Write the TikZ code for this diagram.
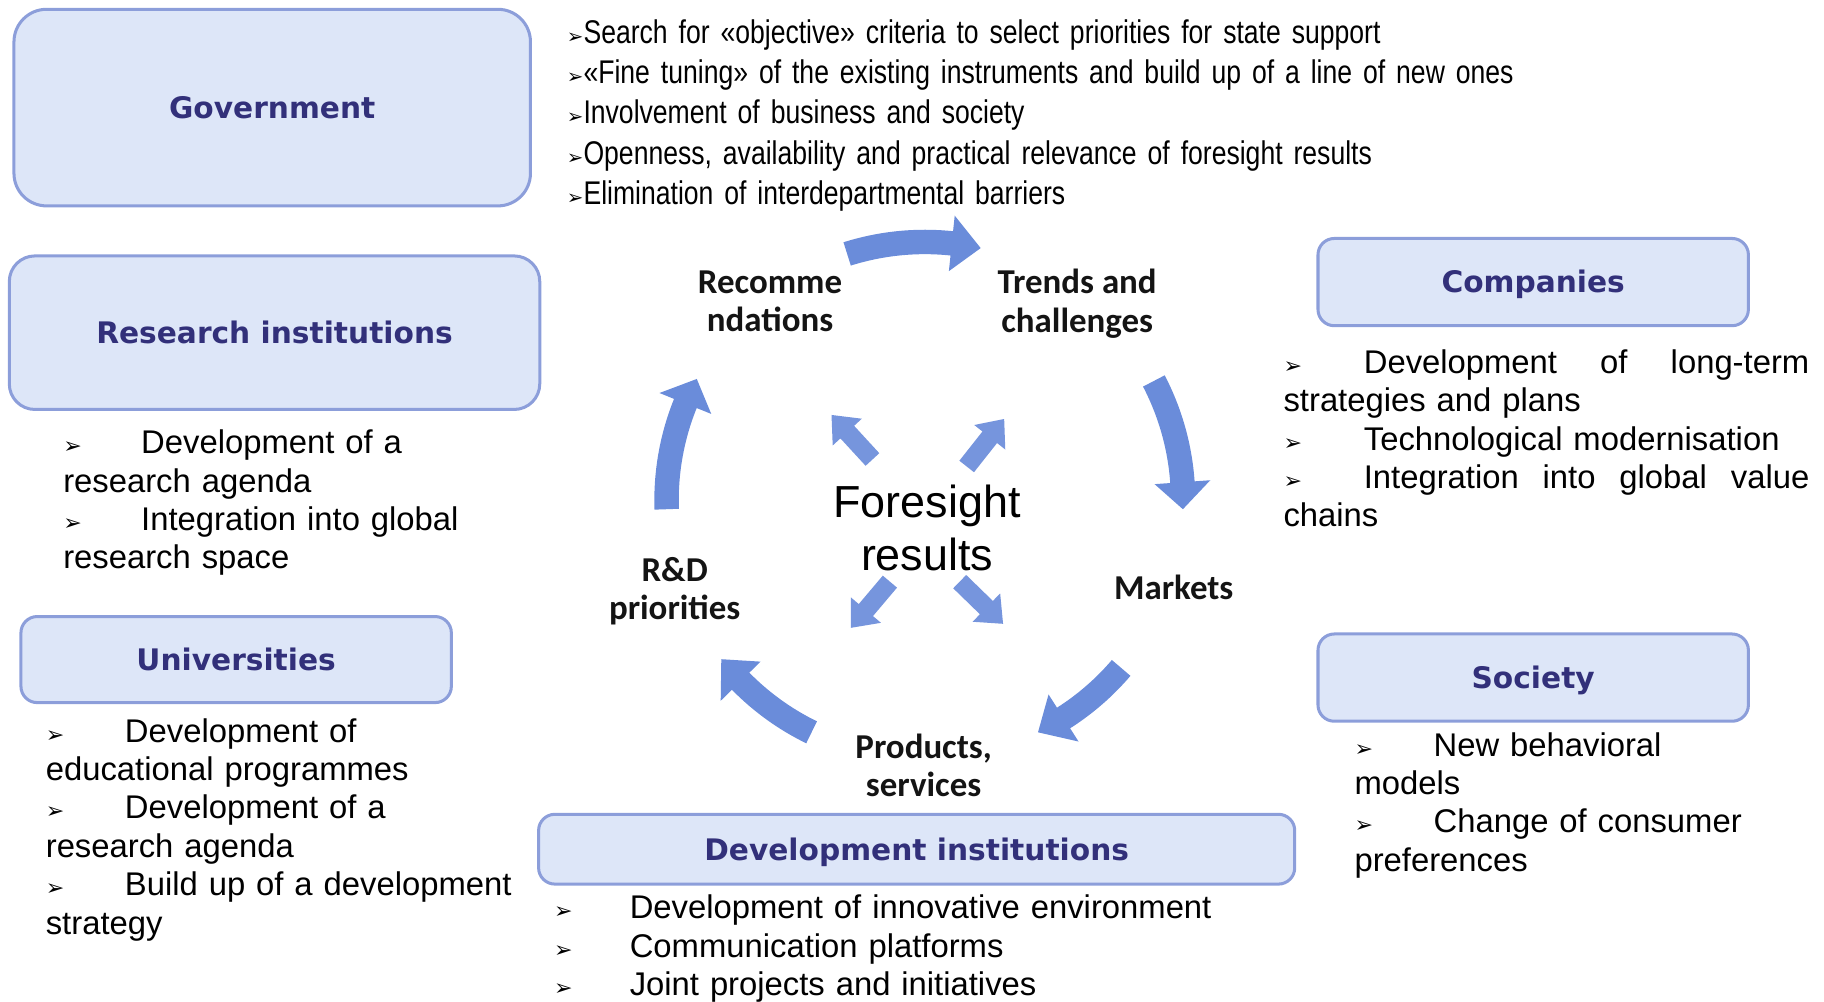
\documentclass[tikz,border=0pt]{standalone}
\usepackage{fontspec}
\setmainfont{Liberation Sans}
\newfontfamily\narrowf[FakeStretch=0.81]{Liberation Sans}
\newfontfamily\headf{DejaVu Sans}
\newfontfamily\calf{Carlito}
\newfontfamily\symf{DejaVu Sans}
\definecolor{boxfill}{RGB}{221,230,248}
\definecolor{boxline}{RGB}{140,158,218}
\definecolor{headc}{RGB}{50,48,122}
\definecolor{arrowc}{RGB}{106,140,218}
\newcommand{\bul}{{\symf\fontsize{9.5}{9.5}\selectfont ➢}}
\newcommand{\gbul}{{\symf\fontsize{8.5}{8.5}\selectfont ➢}}
\newcommand{\bi}[1]{\makebox[#1][l]{\bul}}
\newcommand{\cycarrow}[3]{\fill[arrowc] (#1:116.25pt) arc[start angle=#1, end angle=#2, radius=116.25pt] -- (#2:123pt) -- (#3:111pt) -- (#2:99pt) -- (#2:105.75pt) arc[start angle=#2, end angle=#1, radius=105.75pt] -- cycle;}
\newcommand{\burst}[3]{\fill[arrowc!92!white, shift={(#1,#2)}, rotate=#3] (0,-8) -- (32,-8) -- (32,-17) -- (52,0) -- (32,17) -- (32,8) -- (0,8) -- cycle;}
\tikzset{
  hbox/.style={draw=boxline, fill=boxfill, line width=1.3pt, font=\headf\bfseries\fontsize{12.75}{15}\selectfont, text=headc, inner sep=0pt, text height=9.3pt, text depth=0pt},
  listtext/.style={inner sep=0pt, anchor=base west, align=left, font=\fontsize{14.1}{16.5}\selectfont, text=black},
  cyc/.style={font=\calf\bfseries\fontsize{15}{16.5}\selectfont, align=center, inner sep=0pt, text=black!92}
}
\begin{document}
\begin{tikzpicture}[x=0.5pt,y=-0.5pt]
\useasboundingbox (0,0) rectangle (1568,861);
% boxes
\node[hbox, rounded corners=14pt, minimum width=222pt, minimum height=84.5pt] (gov) at (234,92.5) {Government};
\node[hbox, rounded corners=11pt, minimum width=228pt, minimum height=66pt] (res) at (236,286) {Research institutions};
\node[hbox, rounded corners=7pt, minimum width=185pt, minimum height=37pt] (uni) at (203,567) {Universities};
\node[hbox, rounded corners=7pt, minimum width=185pt, minimum height=37.5pt] (comp) at (1318,242.5) {Companies};
\node[hbox, rounded corners=7pt, minimum width=185pt, minimum height=37.5pt] (soc) at (1318,582.5) {Society};
\node[hbox, rounded corners=7pt, minimum width=325pt, minimum height=30pt] (dev) at (788,730) {Development institutions};
% lists
\node[listtext, text width=420pt, font=\narrowf\fontsize{14.1}{17.4}\selectfont] (govlist) at (487,37) {\gbul Search for «objective» criteria to select priorities for state support\\
\gbul«Fine tuning» of the existing instruments and build up of a line of new ones\\
\gbul Involvement of business and society\\
\gbul Openness, availability and practical relevance of foresight results\\
\gbul Elimination of interdepartmental barriers};
\node[listtext, text width=230pt] (reslist) at (54,390) {\bi{33.5pt}Development of a\\research agenda\\\bi{33.5pt}Integration into global\\research space};
\node[listtext, text width=240pt] (unilist) at (39,638) {\bi{34pt}Development of\\educational programmes\\\bi{34pt}Development of a\\research agenda\\\bi{34pt}Build up of a development\\strategy};
\node[listtext, text width=226pt] (complist) at (1103,321) {\makebox[226pt][l]{\bi{34.5pt}Development\hfill of\hfill long-term}\\strategies and plans\\\bi{34.5pt}Technological modernisation\\\makebox[226pt][l]{\bi{34.5pt}Integration\hfill into\hfill global\hfill value}\\chains};
\node[listtext, text width=200pt] (soclist) at (1164,650) {\bi{34pt}New behavioral\\models\\\bi{34pt}Change of consumer\\preferences};
\node[listtext, text width=320pt] (devlist) at (476,790) {\bi{32.5pt}Development of innovative environment\\\bi{32.5pt}Communication platforms\\\bi{32.5pt}Joint projects and initiatives};
% cycle labels
\node[cyc] (rec) at (662,259) {Recomme\\ndations};
\node[cyc] (trend) at (926,261) {Trends and\\challenges};
\node[cyc] (mkt) at (1009,505) {Markets};
\node[cyc] (prod) at (794,658) {Products,\\services};
\node[cyc] (rd) at (580,508) {R\&D\\priorities};
\node[font=\fontsize{19.3}{23}\selectfont, align=center, inner sep=0pt] (fs) at (797,454) {Foresight\\results};
% cycle arrows
\begin{scope}[shift={(795,430)}]
\cycarrow{107.5}{84}{77.5}
\cycarrow{27.5}{4}{-2}
\cycarrow{-40.5}{-57.5}{-64}
\cycarrow{-116}{-135.5}{-142}
\cycarrow{182}{158}{152}
\end{scope}
% burst arrows
\burst{750}{395}{132.6}
\burst{831}{401}{51.7}
\burst{765}{500}{-130.2}
\burst{825}{500}{-44.2}
\end{tikzpicture}
\end{document}
